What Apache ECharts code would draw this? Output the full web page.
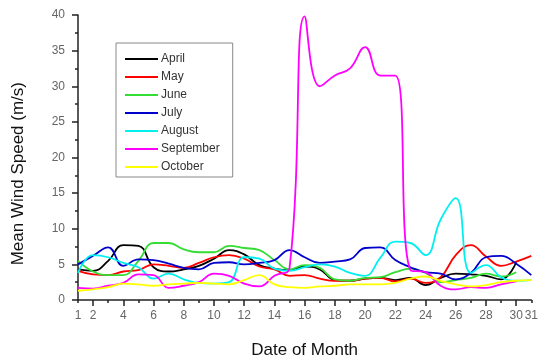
<!DOCTYPE html>
<html>
<head>
<meta charset="utf-8">
<script src="https://cdn.jsdelivr.net/npm/echarts@6/dist/echarts.min.js"></script>
<style>
html,body{margin:0;padding:0;background:#fff;}
#chart{width:541px;height:364px;}
</style>
</head>
<body>
<div id="chart"></div>
<script>
var days = [];
for (var d = 1; d <= 31; d++) days.push(d);
var xTickLabels = [1, 2, 4, 6, 8, 10, 12, 14, 16, 18, 20, 22, 24, 26, 28, 30, 31];
var yTicks = [0, 5, 10, 15, 20, 25, 30, 35, 40];
var monthNames = ['April', 'May', 'June', 'July', 'August', 'September', 'October'];
var monthColors = ['#000000', '#ff0000', '#33dd33', '#0000cc', '#00f0f0', '#ff00ff', '#ffff00'];

var april = [4.3, 4.1, 5.5, 7.7, 7.6, 4.6, 4.0, 4.3, 4.8, 5.8, 7.0, 6.4, 4.9, 4.4, 4.2, 4.7, 4.3, 2.8, 2.7, 3.0, 3.1, 2.8, 3.1, 2.1, 3.1, 3.7, 3.6, 3.4, 2.9, 5.3];
var may = [4.1, 3.6, 3.5, 4.0, 4.2, 5.0, 4.8, 4.5, 5.2, 6.0, 6.3, 5.8, 4.7, 4.3, 3.4, 3.5, 3.0, 2.7, 2.7, 3.0, 3.1, 2.6, 3.0, 2.4, 3.2, 6.3, 7.7, 6.1, 4.8, 5.4, 6.2];
var june = [5.5, 4.0, 3.5, 3.5, 5.5, 8.0, 8.0, 7.1, 6.7, 6.7, 7.6, 7.3, 7.0, 5.6, 4.3, 4.9, 4.5, 2.9, 2.7, 3.1, 3.2, 3.9, 4.4, 3.8, 2.5, 2.8, 3.1, 3.7, 3.3, 3.9];
var july = [5.0, 6.2, 7.4, 4.8, 5.7, 5.6, 5.1, 4.5, 4.3, 5.2, 5.3, 5.0, 5.2, 5.6, 7.0, 6.0, 5.2, 5.4, 5.7, 7.3, 7.4, 5.6, 4.6, 3.9, 3.7, 2.9, 3.8, 6.0, 6.2, 5.1, 3.5];
var august = [3.8, 6.3, 6.0, 5.2, 4.6, 3.0, 3.7, 2.9, 2.4, 2.3, 2.5, 6.0, 5.8, 4.4, 4.1, 4.6, 5.0, 4.7, 3.8, 3.4, 5.9, 8.2, 8.0, 6.3, 11.3, 14.3, 3.8, 4.9, 3.2, 2.7, 2.8];
var september = [1.7, 1.6, 2.0, 2.4, 3.6, 3.5, 1.7, 2.0, 2.5, 3.7, 3.4, 2.3, 1.9, 3.4, 4.5, 39.8, 30.0, 31.5, 32.5, 35.5, 31.5, 31.5, 4.2, 3.9, 2.0, 1.5, 1.8, 1.7, 2.2, 2.6];
var october = [1.3, 1.5, 1.8, 2.3, 2.2, 2.0, 2.2, 2.3, 2.4, 2.3, 2.2, 2.8, 3.5, 2.2, 1.8, 1.7, 1.9, 2.0, 2.2, 2.2, 2.2, 2.4, 3.0, 3.3, 2.7, 2.2, 1.9, 2.1, 2.5, 2.7, 2.8];

var monthData = [april, may, june, july, august, september, october];

function pairs(arr) {
  return arr.map(function (v, i) { return [days[i], v]; });
}

var series = monthNames.map(function (name, k) {
  return {
    name: name,
    type: 'line',
    xAxisIndex: 0,
    data: pairs(monthData[k]),
    smooth: 0.45,
    symbol: 'none',
    lineStyle: { color: monthColors[k], width: 1.8 },
    itemStyle: { color: monthColors[k] },
    z: 2 + k
  };
});

var oddTicks = days.filter(function (d) { return d % 2 === 1; });
var evenTicks = days.filter(function (d) { return d % 2 === 0; });

var chart = echarts.init(document.getElementById('chart'), null, { renderer: 'canvas' });
chart.setOption({
  animation: false,
  backgroundColor: '#ffffff',
  textStyle: { fontFamily: 'Liberation Sans, Arial, sans-serif' },
  grid: { left: 78, right: 6, top: 15, bottom: 53, containLabel: false },
  legend: {
    orient: 'vertical',
    left: 116,
    top: 43,
    padding: [9, 13, 3, 9],
    icon: 'rect',
    itemWidth: 33,
    itemHeight: 2,
    itemGap: 4,
    borderColor: '#888888',
    borderWidth: 1,
    textStyle: { fontSize: 12, color: '#333333', lineHeight: 14, height: 14, padding: [0, 0, 0, -2] },
    data: monthNames
  },
  xAxis: [{
    type: 'value',
    min: 1,
    max: 31,
    interval: 1,
    name: 'Date of Month',
    nameLocation: 'middle',
    nameGap: 42,
    nameTextStyle: { fontSize: 17, color: '#111111' },
    axisLine: { show: true, onZero: false, lineStyle: { color: '#222222', width: 1.5 } },
    axisTick: { show: true, customValues: evenTicks, length: 6, lineStyle: { color: '#222222', width: 1.5 } },
    axisLabel: { customValues: xTickLabels, fontSize: 12, color: '#666666', margin: 10, hideOverlap: false },
    splitLine: { show: false }
  }, {
    type: 'value',
    min: 1,
    max: 31,
    interval: 1,
    position: 'bottom',
    axisLine: { show: false },
    axisTick: { show: true, customValues: oddTicks, length: 3, lineStyle: { color: '#222222', width: 1.5 } },
    axisLabel: { show: false },
    splitLine: { show: false }
  }],
  yAxis: {
    type: 'value',
    min: 0,
    max: 40,
    interval: 5,
    axisLine: { show: true, lineStyle: { color: '#222222', width: 1.5 } },
    axisTick: { show: true, length: 6, lineStyle: { color: '#222222', width: 1.5 } },
    minorTick: { show: true, splitNumber: 2, length: 3, lineStyle: { color: '#222222', width: 1.5 } },
    axisLabel: { fontSize: 12, color: '#666666', margin: 13 },
    splitLine: { show: false },
    minorSplitLine: { show: false }
  },
  graphic: [{
    type: 'text',
    left: 10,
    top: 82,
    rotation: Math.PI / 2,
    style: {
      text: 'Mean Wind Speed (m/s)',
      font: '17px "Liberation Sans", Arial, sans-serif',
      fill: '#111111'
    }
  }],
  series: series
});
</script>
</body>
</html>
